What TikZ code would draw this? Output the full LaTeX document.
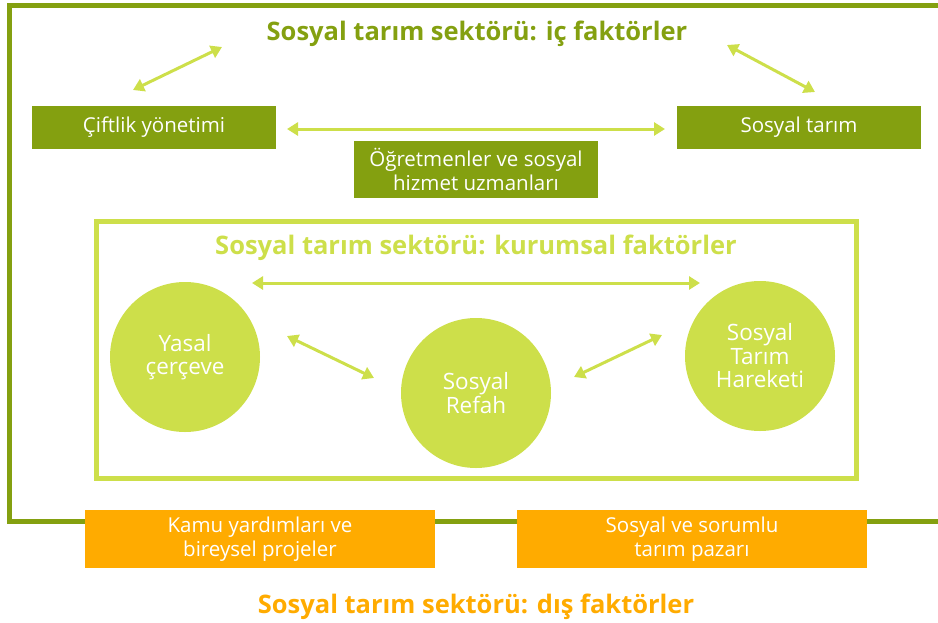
\documentclass[tikz,border=0pt]{standalone}
\usepackage{fontspec}
\setmainfont{Open Sans}
\usetikzlibrary{arrows.meta}

\definecolor{koyuyesil}{RGB}{132,160,16}
\definecolor{acikyesil}{RGB}{205,223,74}
\definecolor{turuncu}{RGB}{255,171,0}

\tikzset{every picture/.style={line width=0.75pt}}
\tikzset{
  kutu/.style={fill=koyuyesil, text=white, inner sep=0pt, minimum width=244pt, minimum height=43pt, align=center, font=\fontsize{20.5}{24}\selectfont},
  diskutu/.style={fill=turuncu, text=white, inner sep=0pt, minimum width=350pt, minimum height=58pt, align=center, font=\fontsize{20.5}{23.5}\selectfont},
  daire/.style={circle, fill=acikyesil, text=white, inner sep=0pt, minimum size=150pt, align=center, font=\fontsize{22.5}{23.5}\selectfont},
  baslik/.style={inner sep=0pt, font=\fontsize{25.5}{28}\selectfont\bfseries},
  ciftok/.style={draw=acikyesil, line width=3pt, {Triangle[length=11pt,width=13pt]}-{Triangle[length=11pt,width=13pt]}}
}

\begin{document}
\begin{tikzpicture}[x=1pt,y=1pt,yscale=-1,xscale=1]
\useasboundingbox (0,0) rectangle (938,622);

%Outer frame (ic faktorler)
\draw [koyuyesil, line width=5pt] (945,5) -- (9.5,5) -- (9.5,521) -- (945,521);
%Inner frame (kurumsal faktorler)
\draw [acikyesil, line width=5pt] (96,221) rectangle (856.5,478.5);

% Titles
\node [baslik, text=koyuyesil] (icbaslik) at (477,34) {Sosyal tarım sektörü: iç faktörler};
\node [baslik, text=acikyesil] (kurumbaslik) at (476,248) {Sosyal tarım sektörü: kurumsal faktörler};
\node [baslik, text=turuncu] (disbaslik) at (476,607) {Sosyal tarım sektörü: dış faktörler};

% Internal factors
\node [kutu] (ciftlik) at (154,127.5) {\raisebox{-2pt}{Çiftlik yönetimi}};
\node [kutu] (sosyaltarim) at (799,127.5) {\raisebox{-2pt}{Sosyal tarım}};
\node [kutu, minimum height=57pt] (ogretmen) at (476,169.5) {Öğretmenler ve sosyal\\hizmet uzmanları};

% Institutional factors
\node [daire] (yasal) at (185,357) {Yasal\\çerçeve};
\node [daire] (refah) at (476,393) {Sosyal\\Refah};
\node [daire] (hareket) at (760,356) {Sosyal\\Tarım\\Hareketi};

% External factors
\node [diskutu] (kamu) at (260,539) {Kamu yardımları ve\\bireysel projeler};
\node [diskutu] (pazar) at (692,539) {Sosyal ve sorumlu\\tarım pazarı};

% Arrow ends
\coordinate (a1) at (133,90);
\coordinate (a2) at (222,47);
\coordinate (b1) at (727,45);
\coordinate (b2) at (815,92);
\coordinate (c1) at (287,129);
\coordinate (c2) at (665,129);
\coordinate (d1) at (252,283);
\coordinate (d2) at (700,283);
\coordinate (e1) at (287,336);
\coordinate (e2) at (374,378);
\coordinate (f1) at (574,377);
\coordinate (f2) at (662,335);

% Arrows
\draw [ciftok] (a1) -- (a2);
\draw [ciftok] (b1) -- (b2);
\draw [ciftok] (c1) -- (c2);
\draw [ciftok] (d1) -- (d2);
\draw [ciftok] (e1) -- (e2);
\draw [ciftok] (f1) -- (f2);
\end{tikzpicture}
\end{document}
